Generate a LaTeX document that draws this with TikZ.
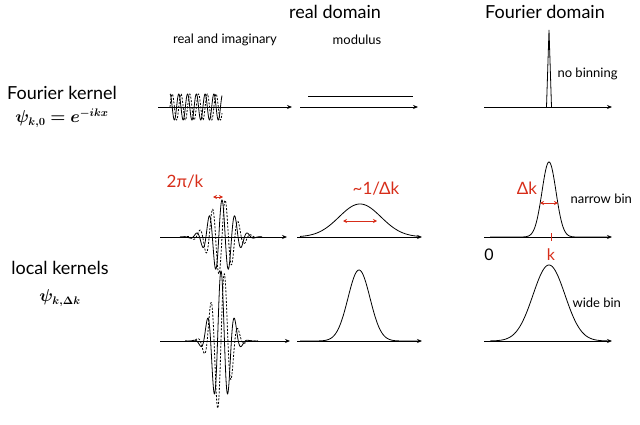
\documentclass[tikz,border=0pt]{standalone}
\usepackage{fontspec}
\setmainfont{Lato}
\usepackage{amsmath}
\usepackage{bm}
\usetikzlibrary{arrows.meta}
\definecolor{myred}{RGB}{215,45,25}
\begin{document}
\begin{tikzpicture}[x=1pt,y=-1pt,
  ax/.style={line width=0.9pt,-{Stealth[length=5pt,width=4pt]}},
  cur/.style={line width=0.8pt},
  dcur/.style={line width=0.8pt,dash pattern=on 2pt off 1.5pt},
  lbl/.style={font=\fontsize{16}{18}\selectfont},
  sml/.style={font=\fontsize{13}{15}\selectfont},
  big/.style={font=\fontsize{18}{21}\selectfont},
  rlbl/.style={font=\fontsize{17}{19}\selectfont,text=myred},
  rarr/.style={myred,line width=0.9pt,{Stealth[length=4pt,width=4pt]}-{Stealth[length=4pt,width=4pt]}}]
\useasboundingbox (0,0) rectangle (640,425);
% titles
\node[big] (t1) at (335,12) {real domain};
\node[big] (t2) at (545,12) {Fourier domain};
\node[sml] (s1) at (225,40) {real and imaginary};
\node[sml] (s2) at (357,40) {modulus};
\node[sml,anchor=west] (nb) at (554,74) {no binning};
\node[big] (fk) at (62,93) {Fourier kernel};
\node[lbl] (fkf) at (62,118) {$\bm{\psi_{k,0}=e^{-ikx}}$};
\node[big] (lk) at (60,268) {local kernels};
\node[lbl] (lkf) at (60,298) {$\bm{\psi_{k,\Delta k}}$};
\node[sml,anchor=west] (nrb) at (567,199) {narrow bin};
\node[sml,anchor=west] (wb) at (569,303) {wide bin};
% row 1
\draw[cur] plot[domain=170:222,samples=200] (\x,{107-13*cos(41*(\x-170))});
\draw[dcur] plot[domain=170:222,samples=200] (\x,{107-13*sin(41*(\x-170))});
\draw[ax] (158,107) coordinate (a1s) -- (292,107) coordinate (a1e);
\draw[cur] (308,96) -- (413,96);
\draw[ax] (300,107) coordinate (a2s) -- (418,107) coordinate (a2e);
\draw[cur] (546.5,107) -- (549,30) -- (551.5,107);
\draw[ax] (484,107) coordinate (a3s) -- (612,107) coordinate (a3e);
% row 2
\draw[dcur] plot[domain=180:262,samples=300] (\x,{237-38*exp(-((\x-222)/12)^2/2)*sin(28*(\x-222))});
\draw[cur] plot[domain=180:262,samples=300] (\x,{237-37*exp(-((\x-222)/12)^2/2)*cos(28*(\x-222))});
\draw[ax] (160,237) -- (287,237);
\draw[cur] plot[domain=300:420,samples=150] (\x,{237-33*exp(-((\x-360)/21)^2/2)});
\draw[ax] (297,237) -- (422,237);
\draw[rarr] (343,221) coordinate (w1) -- (377,221) coordinate (w2);
\node[rlbl] (ik) at (376,189) {\textasciitilde1/Δk};
\draw[cur] plot[domain=490:608,samples=200] (\x,{237-75*exp(-((\x-549)/7)^2/2)});
\draw[ax] (484,237) -- (612,237);
\draw[myred,line width=0.9pt] (551,233) -- (551,241);
\draw[rarr] (540,203) -- (558,203);
\node[rlbl] (dk) at (527,188) {Δk};
\node[lbl] (z) at (489,255) {0};
\node[lbl,text=myred] (kk) at (551,255) {k};
\draw[rarr] (213,197) -- (223,197);
\node[rlbl] (tp) at (185,182) {2π/k};
% row 3
\draw[dcur] plot[domain=185:258,samples=300] (\x,{341-72*exp(-((\x-221)/9)^2/2)*sin(26*(\x-221))});
\draw[cur] plot[domain=185:258,samples=300] (\x,{341-70*exp(-((\x-221)/9)^2/2)*cos(26*(\x-221))});
\draw[ax] (160,341) -- (290,341);
\draw[cur] plot[domain=300:420,samples=150] (\x,{341-71*exp(-((\x-359)/11)^2/2)});
\draw[ax] (297,341) -- (422,341);
\draw[cur] plot[domain=490:608,samples=150] (\x,{341-76*exp(-((\x-549)/16)^2/2)});
\draw[ax] (484,341) -- (612,341);
\end{tikzpicture}
\end{document}
